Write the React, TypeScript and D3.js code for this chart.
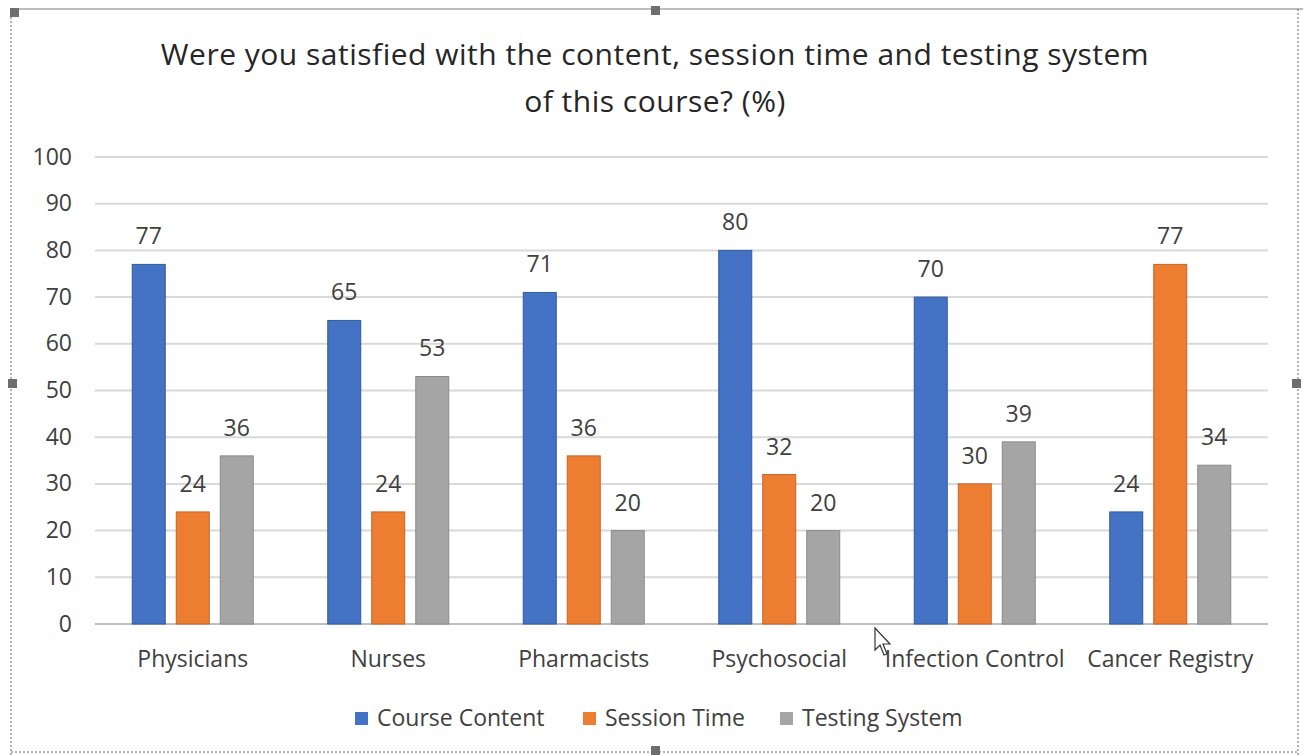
import React from 'react';
import * as d3 from 'd3';

const categories = ['Physicians', 'Nurses', 'Pharmacists', 'Psychosocial', 'Infection Control', 'Cancer Registry'];
const seriesNames = ['Course Content', 'Session Time', 'Testing System'];
const courseContent = [77, 65, 71, 80, 70, 24];
const sessionTime = [24, 24, 36, 32, 30, 77];
const testingSystem = [36, 53, 20, 20, 39, 34];
const yTicks = [0, 10, 20, 30, 40, 50, 60, 70, 80, 90, 100];
const colors = ['#4472c4', '#ed7d31', '#a5a5a5'];
const strokes = ['#35599c', '#c56425', '#8a8a8a'];

const W = 1303, H = 755;
const font = '"Open Sans", Lato, sans-serif';

export default function App() {
  const values = [courseContent, sessionTime, testingSystem];
  const x0 = d3.scaleBand<string>().domain(categories).range([95, 1268]);
  const groupW = 121;
  const x1 = d3.scaleBand<string>().domain(seriesNames).range([0, groupW]).paddingInner(0.25);
  const off = (x0.bandwidth() - groupW) / 2;
  const y = d3.scaleLinear().domain([0, 100]).range([624, 157]);

  const legendX = [355, 583, 780];

  return (
    <svg width={W} height={H} style={{ position: 'absolute', left: 0, top: 0, background: '#fff' }} fontFamily={font}>
      {/* selection frame */}
      <line x1={10} x2={W} y1={9} y2={9} stroke="#bdbdbd" strokeWidth={2} />
      <line x1={11} x2={11} y1={9} y2={H} stroke="#666" strokeWidth={1} strokeDasharray="2,2" />
      <line x1={1298} x2={1298} y1={9} y2={H} stroke="#666" strokeWidth={1} strokeDasharray="2,2" />
      <line x1={11} x2={1298} y1={752} y2={752} stroke="#666" strokeWidth={1} strokeDasharray="2,2" />
      {[[10, 8], [651, 6], [8, 379], [1292, 379], [651, 746]].map(([hx, hy], i) => (
        <rect key={i} x={hx} y={hy} width={9} height={9} fill="#6e6e6e" />
      ))}

      <text x={655} y={65} textAnchor="middle" fontSize={30} letterSpacing={0.5} fill="#262626">
        Were you satisfied with the content, session time and testing system
      </text>
      <text x={655} y={112} textAnchor="middle" fontSize={30} letterSpacing={0.5} fill="#262626">
        of this course? (%)
      </text>

      {yTicks.map(t => (
        <g key={t}>
          <line x1={95} x2={1268} y1={y(t)} y2={y(t)} stroke={t === 0 ? '#bfbfbf' : '#d9d9d9'} strokeWidth={2} />
          <text x={72} y={y(t)} dy="0.33em" textAnchor="end" fontSize={23} fill="#404040">{t}</text>
        </g>
      ))}

      {categories.map((c, ci) => (
        <g key={c} transform={`translate(${x0(c)! + off},0)`}>
          {seriesNames.map((s, si) => {
            const v = values[si][ci];
            const bx = x1(s)!;
            return (
              <g key={s}>
                <rect x={bx} y={y(v)} width={x1.bandwidth()} height={y(0) - y(v)} fill={colors[si]} stroke={strokes[si]} strokeWidth={1} />
                <text x={bx + x1.bandwidth() / 2} y={y(v) - 20} textAnchor="middle" fontSize={23} fill="#404040">{v}</text>
              </g>
            );
          })}
        </g>
      ))}

      {categories.map(c => (
        <text key={c} x={x0(c)! + x0.bandwidth() / 2} y={667} textAnchor="middle" fontSize={23} fill="#404040">{c}</text>
      ))}

      {seriesNames.map((s, i) => (
        <g key={s}>
          <rect x={legendX[i]} y={712} width={13} height={13} fill={colors[i]} />
          <text x={legendX[i] + 22} y={726} fontSize={23} fill="#404040">{s}</text>
        </g>
      ))}

      {/* mouse pointer */}
      <path d="M875,628 L875,650 L880,645 L884,655 L887,654 L883,644 L890,644 Z" fill="#fff" stroke="#333" strokeWidth={1.2} />
    </svg>
  );
}
